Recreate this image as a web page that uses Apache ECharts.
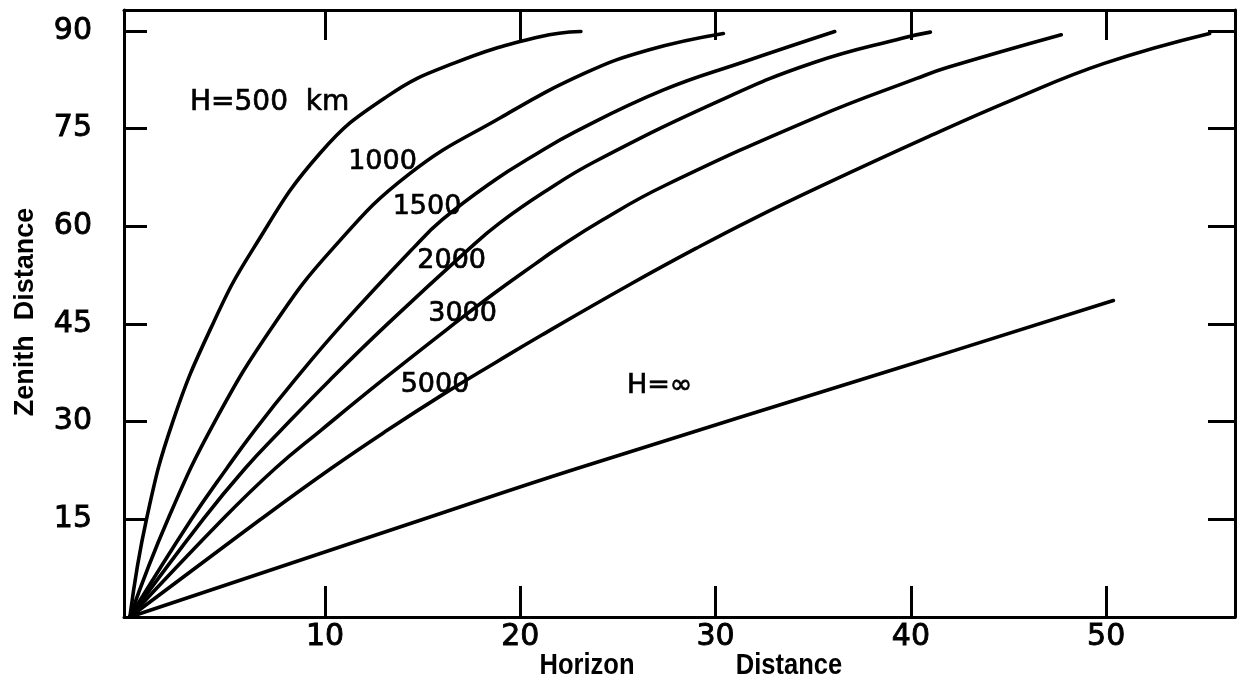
<!DOCTYPE html>
<html>
<head>
<meta charset="utf-8">
<script src="https://cdn.jsdelivr.net/npm/echarts@6/dist/echarts.min.js"></script>
<style>
  html, body { margin: 0; padding: 0; background: #fff; }
  #chart { width: 1242px; height: 685px; }
</style>
</head>
<body>
<div id="chart"></div>
<script>
// Horizon distance (deg, x) against zenith distance (deg, y) for several satellite heights H.
const hKm500  = [[0,0],[0.85,15],[2.2,30],[4.25,45],[6.33,56.6],[9.74,71.2],[13.16,79.9],[16.57,85.0],[21.0,89.1],[23.1,89.9]];
const hKm1000 = [[0,0],[1.95,15],[4.35,30],[7.4,45],[10.4,56.6],[14.3,68],[19.0,76.7],[23.3,83.5],[26.6,87.1],[30.4,89.6]];
const hKm1500 = [[0,0],[3.15,15],[4.96,22.8],[6.4,28.7],[8.45,36.4],[10.9,45],[14.5,56.6],[16.0,61],[18.7,67.1],[20.6,70.7],[22.8,74.5],[27.3,80.9],[31.5,85.3],[36.1,89.9]];
const hKm2000 = [[0,0],[3.75,15],[5.9,22.8],[7.75,28.7],[10.25,36.4],[13.2,45],[17.4,56.6],[18.9,60.4],[21.2,65.2],[23.8,69.9],[30.3,79.4],[35.0,85.1],[39.6,88.9],[41.0,89.8]];
const hKm3000 = [[0,0],[4.75,15],[7.44,22.8],[9.8,28.7],[12.95,36.4],[16.6,45],[18.75,49.9],[20.8,54.3],[21.9,56.6],[24.2,60.95],[27.3,66.1],[35.2,76.8],[40.3,82.7],[41.9,84.4],[47.7,89.4]];
const hKm5000 = [[0,0],[6.7,15],[10.3,22.8],[13.2,28.7],[16.1,34.3],[18.8,39.2],[21.1,43.3],[25.7,51.2],[29.0,56.6],[31.8,60.95],[35.5,66.3],[40.9,73.75],[45.2,79.4],[49.9,85.0],[55.3,89.6]];
const hInfinite = [[0,0],[14.87,14.85],[22.9,22.8],[39.45,38.3],[50.37,48.6]];

const curves = [hKm500, hKm1000, hKm1500, hKm2000, hKm3000, hKm5000, hInfinite];

const xTicks = [10, 20, 30, 40, 50];
const yTicks = [15, 30, 45, 60, 75, 90];

// Curve annotations: text and the data point each one sits on.
const curveLabelText = ['H=500  km', '1000', '1500', '2000', '3000', '5000', 'H=\u221e'];
const curveLabelAt   = [[3.08, 78.9], [12.94, 69.9], [15.22, 62.9], [16.48, 54.6], [17.04, 46.5], [15.63, 35.7], [27.13, 35.4]];

const INK = '#000';
const NUM_FONT = '"DejaVu Sans", sans-serif';
const TITLE_FONT = '"Liberation Sans", Arial, sans-serif';

const chart = echarts.init(document.getElementById('chart'), null, { renderer: 'canvas' });

const frameLine = { show: true, onZero: false, lineStyle: { color: INK, width: 3 } };
const tickStyle = { color: INK, width: 3 };
const X_MIN = -0.3, X_MAX = 56.6, Y_MIN = 0, Y_MAX = 93.2;
// Lettering is slightly heavier than the regular face, so give it a thin outline in the same ink.
const tickLabel = { color: INK, fontSize: 30, fontFamily: NUM_FONT, textBorderColor: INK, textBorderWidth: 0.9 };

const option = {
  animation: false,
  backgroundColor: '#fff',
  grid: { left: 124, right: 7, top: 10, bottom: 68, containLabel: false },
  xAxis: [
    {
      type: 'value', position: 'bottom', min: X_MIN, max: X_MAX,
      axisLine: frameLine,
      axisTick: { show: true, inside: true, length: 31, customValues: xTicks, lineStyle: tickStyle },
      axisLabel: Object.assign({ show: true, customValues: xTicks, margin: 5 }, tickLabel),
      splitLine: { show: false }
    },
    {
      type: 'value', position: 'top', min: X_MIN, max: X_MAX,
      axisLine: frameLine,
      axisTick: { show: true, inside: true, length: 30, customValues: xTicks, lineStyle: tickStyle },
      axisLabel: { show: false },
      splitLine: { show: false }
    }
  ],
  yAxis: [
    {
      type: 'value', position: 'left', min: Y_MIN, max: Y_MAX,
      axisLine: frameLine,
      axisTick: { show: true, inside: true, length: 23, customValues: yTicks, lineStyle: tickStyle },
      axisLabel: Object.assign({ show: true, customValues: yTicks, margin: 32 }, tickLabel),
      splitLine: { show: false }
    },
    {
      type: 'value', position: 'right', min: Y_MIN, max: Y_MAX,
      axisLine: frameLine,
      axisTick: { show: true, inside: true, length: 27, customValues: yTicks, lineStyle: tickStyle },
      axisLabel: { show: false },
      splitLine: { show: false }
    }
  ],
  series: curves.map(function (pts, i) {
    return {
      type: 'line',
      name: curveLabelText[i],
      xAxisIndex: 0,
      yAxisIndex: 0,
      data: pts,
      showSymbol: false,
      smooth: 0.45,
      lineStyle: { color: INK, width: 3.6, cap: 'round', join: 'round' },
      emphasis: { disabled: true },
      z: 3
    };
  })
};

chart.setOption(option);

// Annotation texts placed at their data coordinates, plus the two axis titles.
const graphics = curveLabelText.map(function (txt, i) {
  const p = chart.convertToPixel({ xAxisIndex: 0, yAxisIndex: 0 }, curveLabelAt[i]);
  return {
    type: 'text',
    x: p[0], y: p[1],
    z: 10,
    style: {
      text: txt,
      fill: INK,
      stroke: INK,
      lineWidth: 0.7,
      fontSize: i === 0 ? 28 : 27,
      fontFamily: NUM_FONT,
      align: i === 0 ? 'left' : 'center',
      verticalAlign: 'middle'
    }
  };
});

const titleStyle = { fill: INK, fontSize: 29, fontWeight: 'bold', fontFamily: TITLE_FONT, align: 'center', verticalAlign: 'middle' };
graphics.push(
  { type: 'text', x: 587, y: 666, scaleX: 0.88, style: Object.assign({ text: 'Horizon' }, titleStyle) },
  { type: 'text', x: 789, y: 666, scaleX: 0.88, style: Object.assign({ text: 'Distance' }, titleStyle) },
  { type: 'text', x: 26, y: 312, rotation: Math.PI / 2, style: Object.assign({ text: 'Zenith  Distance' }, titleStyle, { fontSize: 27 }) }
);

chart.setOption({ graphic: graphics });
</script>
</body>
</html>
